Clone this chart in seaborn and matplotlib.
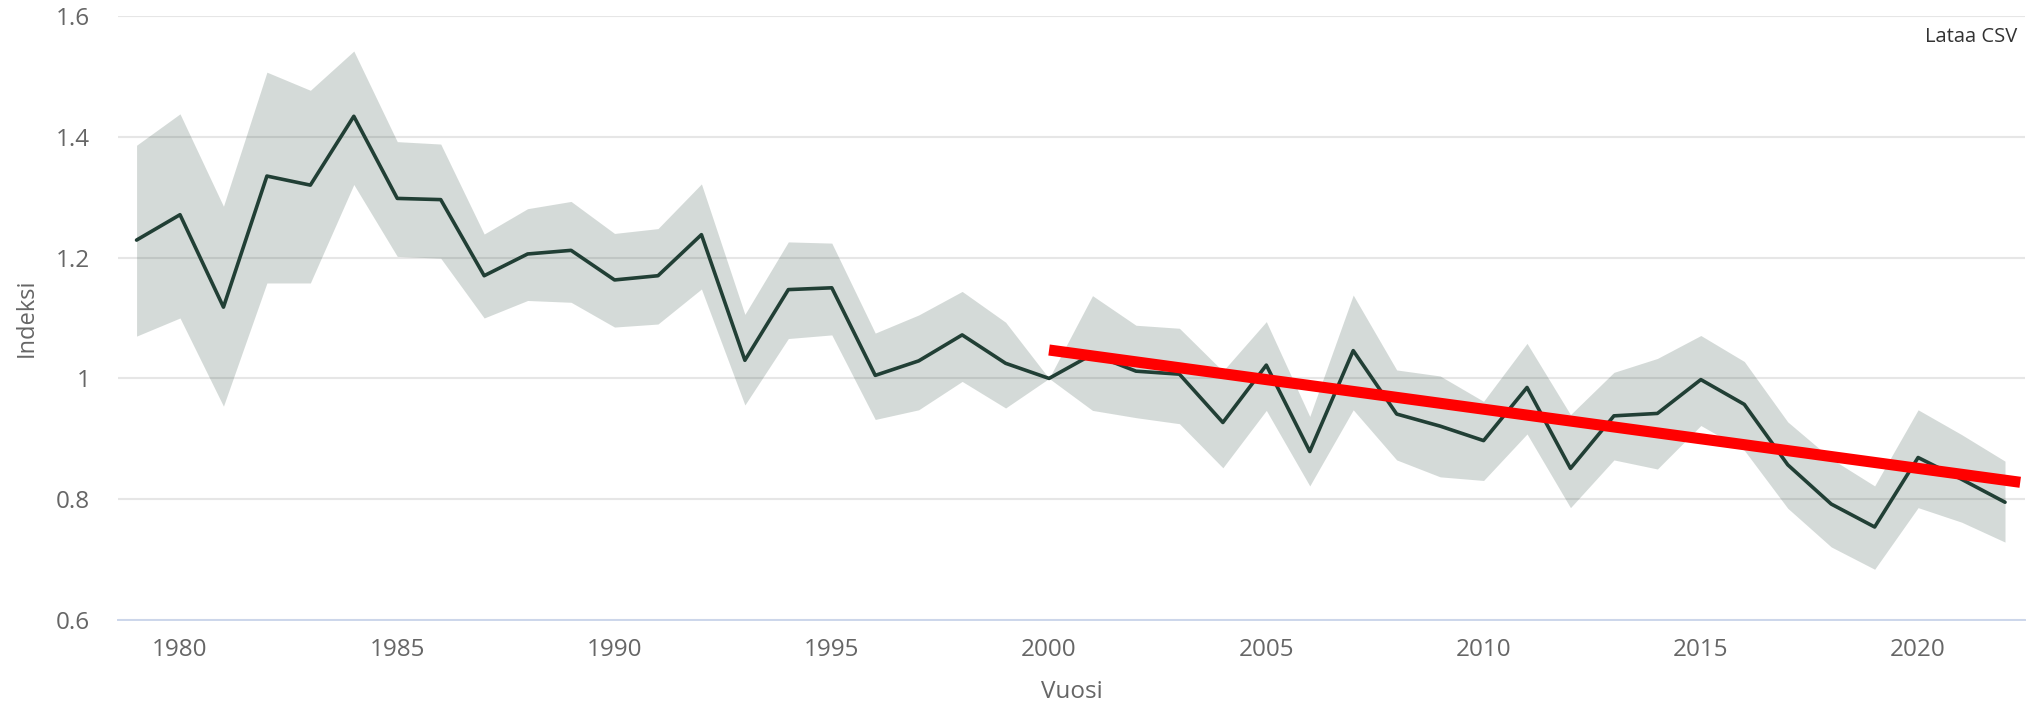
import matplotlib
matplotlib.use('Agg')

import pandas as pd
import seaborn as sns
import matplotlib.pyplot as plt
from matplotlib.ticker import FuncFormatter

years = list(range(1979, 2023))
index_mean = [1.229, 1.271, 1.118, 1.335, 1.320, 1.434, 1.298, 1.296, 1.170, 1.206,
              1.212, 1.163, 1.170, 1.238, 1.030, 1.147, 1.150, 1.005, 1.029, 1.072,
              1.025, 1.000, 1.040, 1.012, 1.007, 0.927, 1.022, 0.879, 1.046, 0.941,
              0.921, 0.897, 0.985, 0.851, 0.938, 0.942, 0.998, 0.957, 0.857, 0.792,
              0.754, 0.869, 0.833, 0.795]
index_upper = [1.386, 1.438, 1.285, 1.507, 1.477, 1.542, 1.392, 1.388, 1.239, 1.281,
               1.293, 1.240, 1.248, 1.322, 1.106, 1.226, 1.224, 1.075, 1.105, 1.144,
               1.093, 1.000, 1.137, 1.088, 1.083, 1.012, 1.094, 0.937, 1.138, 1.014,
               1.004, 0.962, 1.058, 0.940, 1.010, 1.033, 1.071, 1.028, 0.928, 0.867,
               0.822, 0.948, 0.907, 0.863]
index_lower = [1.070, 1.100, 0.954, 1.158, 1.158, 1.321, 1.202, 1.199, 1.100, 1.129,
               1.126, 1.085, 1.090, 1.148, 0.956, 1.066, 1.072, 0.932, 0.948, 0.995,
               0.951, 1.000, 0.947, 0.935, 0.925, 0.852, 0.947, 0.822, 0.948, 0.865,
               0.837, 0.831, 0.908, 0.786, 0.865, 0.850, 0.922, 0.881, 0.785, 0.721,
               0.684, 0.786, 0.762, 0.729]
trend_years = [2000, 2022.35]
trend_values = [1.047, 0.828]
y_ticks = [0.6, 0.8, 1.0, 1.2, 1.4, 1.6]
x_ticks = [1980, 1985, 1990, 1995, 2000, 2005, 2010, 2015, 2020]

df = pd.DataFrame({'Vuosi': years, 'Indeksi': index_mean,
                   'upper': index_upper, 'lower': index_lower})
trend = pd.DataFrame({'Vuosi': trend_years, 'Indeksi': trend_values})

sns.set_style('white')
plt.rcParams['font.family'] = ['Open Sans', 'DejaVu Sans']

fig = plt.figure(figsize=(20.28, 7.04), dpi=100)
ax = fig.add_axes([118 / 2028, 84 / 704, 1907 / 2028, 604 / 704])

ax.fill_between(df.Vuosi, df.lower, df.upper, color='#2b4a3e', alpha=0.2,
                linewidth=0, zorder=2)
sns.lineplot(data=df, x='Vuosi', y='Indeksi', ax=ax, color='#213f35',
             linewidth=2.6, zorder=3)
sns.lineplot(data=trend, x='Vuosi', y='Indeksi', ax=ax, color='#ff0000',
             linewidth=8, zorder=4, solid_capstyle='butt')

ax.set_xlim(1978.573, 2022.46)
ax.set_ylim(0.6, 1.6)
ax.set_yticks(y_ticks)
ax.set_xticks(x_ticks)
ax.yaxis.set_major_formatter(FuncFormatter(lambda v, p: f'{v:g}'))
ax.grid(axis='y', color='#e6e6e6', linewidth=1.5, zorder=1)
ax.set_axisbelow(True)

for s in ['top', 'left', 'right']:
    ax.spines[s].set_visible(False)
ax.spines['bottom'].set_color('#ccd6eb')
ax.spines['bottom'].set_linewidth(1.4)
ax.spines['bottom'].set_zorder(5)

ax.tick_params(axis='x', length=12, width=1.4, color='#ccd6eb', pad=1,
               labelsize=17.5, labelcolor='#666666')
ax.tick_params(axis='y', length=0, pad=20, labelsize=17.5, labelcolor='#666666')

ax.set_xlabel('Vuosi', fontsize=17.5, color='#666666')
ax.set_ylabel('Indeksi', fontsize=17, color='#666666')
ax.xaxis.set_label_coords(0.5, -0.119)
ax.xaxis.label.set_va('center')
ax.yaxis.set_label_coords(-0.0477, 0.5)
ax.yaxis.label.set_va('center')

fig.text(2017 / 2028, 1 - 37 / 704, 'Lataa CSV', ha='right', va='center',
         fontsize=14.5, color='#333333')

plt.savefig('out.png', dpi=100)
